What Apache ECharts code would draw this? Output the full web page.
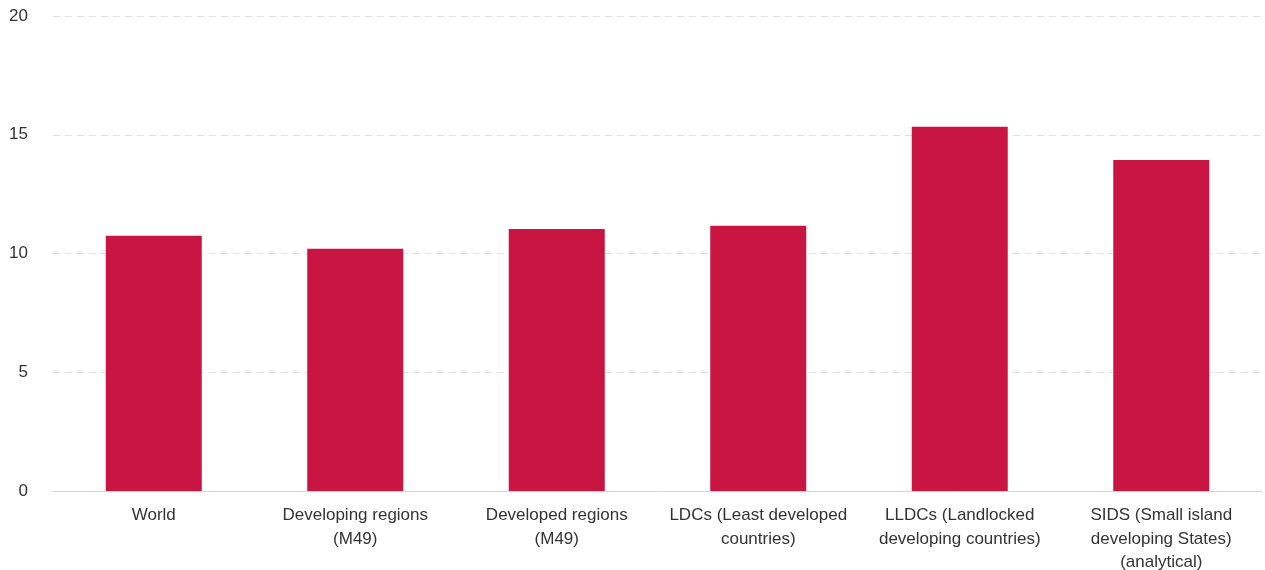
<!DOCTYPE html>
<html>
<head>
<meta charset="utf-8">
<script src="https://cdn.jsdelivr.net/npm/echarts@6/dist/echarts.min.js"></script>
<style>html,body{margin:0;padding:0;background:#fff}#c{width:1265px;height:570px}</style>
</head>
<body>
<div id="c"></div>
<script>
const categories = [
  "World",
  "Developing regions\n(M49)",
  "Developed regions\n(M49)",
  "LDCs (Least developed\ncountries)",
  "LLDCs (Landlocked\ndeveloping countries)",
  "SIDS (Small island\ndeveloping States)\n(analytical)"
];
const values = [10.75, 10.2, 11.03, 11.17, 15.34, 13.94];
const yTicks = { min: 0, max: 20, interval: 5 };

const chart = echarts.init(document.getElementById('c'));
chart.setOption({
  animation: false,
  grid: { left: 53, right: 3, top: 16, bottom: 79, containLabel: false, outerBoundsMode: 'none' },
  xAxis: {
    type: 'category',
    data: categories,
    z: 5,
    axisTick: { show: false },
    axisLine: { lineStyle: { color: '#ccd6eb', width: 1 } },
    axisLabel: {
      color: '#333',
      fontFamily: 'Liberation Sans, Arial, Helvetica, sans-serif',
      fontSize: 17,
      lineHeight: 23.5,
      margin: 13,
      interval: 0
    }
  },
  yAxis: {
    type: 'value',
    min: yTicks.min, max: yTicks.max, interval: yTicks.interval,
    axisLine: { show: false },
    axisTick: { show: false },
    splitLine: { showMinLine: false, lineStyle: { color: '#e0e0e0', type: [7, 5], width: 1 } },
    axisLabel: {
      color: '#333',
      fontFamily: 'Liberation Sans, Arial, Helvetica, sans-serif',
      fontSize: 17,
      margin: 25
    }
  },
  series: [{
    type: 'bar',
    data: values,
    barWidth: 96,
    z: 2,
    itemStyle: { color: '#c81542' }
  }]
});
</script>
</body>
</html>
